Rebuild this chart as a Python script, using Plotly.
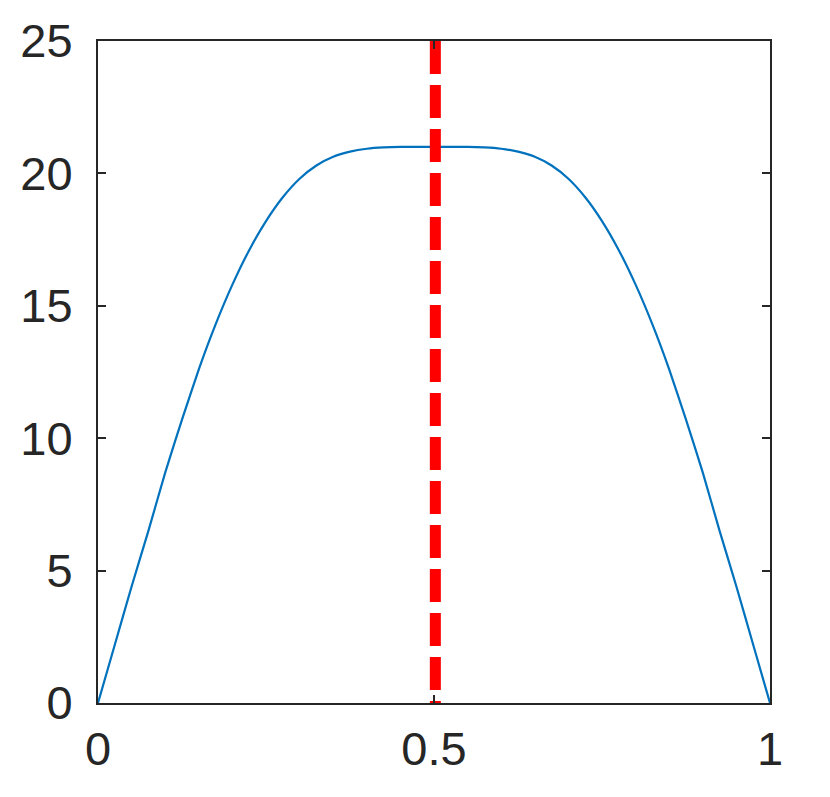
import plotly.graph_objects as go

# curve values
x_vals = [0, 0.025, 0.05, 0.075, 0.1, 0.125, 0.15, 0.175, 0.2, 0.225, 0.25, 0.275,
          0.3, 0.325, 0.35, 0.375, 0.4, 0.425, 0.45, 0.475, 0.5,
          0.525, 0.55, 0.575, 0.6, 0.625, 0.65, 0.675, 0.7, 0.725, 0.75,
          0.775, 0.8, 0.825, 0.85, 0.875, 0.9, 0.925, 0.95, 0.975, 1]
y_vals = [0, 2.2, 4.4, 6.5, 8.7, 10.7, 12.6, 14.3, 15.8, 17.1, 18.2, 19.1,
          19.8, 20.3, 20.63, 20.82, 20.93, 20.98, 21.0, 21.0, 21.0,
          21.0, 21.0, 20.98, 20.93, 20.82, 20.63, 20.3, 19.8, 19.1, 18.2,
          17.1, 15.8, 14.3, 12.6, 10.7, 8.7, 6.5, 4.4, 2.2, 0]

# vertical marker
marker_x = [0.502, 0.502]
marker_y = [25, 0]

x_ticks = [0, 0.5, 1]
x_labels = ["0", "0.5", "1"]
y_ticks = [0, 5, 10, 15, 20, 25]
y_labels = ["0", "5", "10", "15", "20", "25"]

fig = go.Figure()
fig.add_trace(go.Scatter(x=x_vals, y=y_vals, mode="lines", line_shape="spline",
                         line=dict(color="#0072BD", width=2.2, smoothing=0.5), showlegend=False))
fig.add_trace(go.Scatter(x=marker_x, y=marker_y, mode="lines",
                         line=dict(color="#FF0000", width=11, dash="33px,11px"),
                         showlegend=False))

axis_style = dict(showline=True, linecolor="#262626", linewidth=2, mirror="ticks",
                  ticks="inside", ticklen=8, tickwidth=2, tickcolor="#262626",
                  showgrid=False, zeroline=False, automargin=False,
                  tickfont=dict(family="Liberation Sans, Arial, sans-serif", size=47, color="#262626"))

fig.update_xaxes(range=[0, 1], tickvals=x_ticks, ticktext=x_labels,
                 ticklabelstandoff=4, **axis_style)
fig.update_yaxes(range=[0, 25], tickvals=y_ticks, ticktext=y_labels,
                 ticklabelstandoff=14, **axis_style)

# page body adds ~8px, so margins are shifted to keep the box in place
fig.update_layout(width=830, height=797, plot_bgcolor="white", paper_bgcolor="white",
                  margin=dict(l=90, r=68, t=33, b=102))

fig.write_html("out.html")
